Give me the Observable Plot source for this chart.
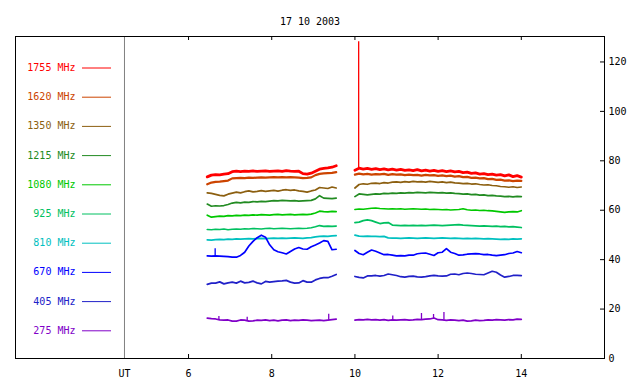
<!DOCTYPE html>
<html><head><meta charset="utf-8">
<script src="https://cdn.jsdelivr.net/npm/d3@7"></script>
<script src="https://cdn.jsdelivr.net/npm/@observablehq/plot@0.6"></script>
<style>body{margin:0;background:#fff}</style>
</head><body><div id="chart"></div>
<script>
const title = "17 10 2003";
const labels = ["1755 MHz","1620 MHz","1350 MHz","1215 MHz","1080 MHz","925 MHz","810 MHz","670 MHz","405 MHz","275 MHz"];
const colors = ["#ff0000","#cc4400","#8c5f10","#228b22","#00c800","#00c060","#00c0c0","#0000ff","#2020c8","#8000c8"];
const xTicks = [6,8,10,12,14];
const yTicks = [0,20,40,60,80,100,120];
const utLabel = "UT";
const utAt = 4.46;

// time grids (hours UT)
const t1 = [6.45,6.55,6.65,6.75,6.85,6.95,7.05,7.15,7.25,7.35,7.45,7.55,7.65,7.75,7.85,7.95,8.05,8.15,8.25,8.35,8.45,8.55,8.65,8.75,8.85,8.95,9.05,9.15,9.25,9.35,9.45,9.55];
const t2 = [10.0,10.1,10.2,10.3,10.4,10.5,10.6,10.7,10.8,10.9,11.0,11.1,11.2,11.3,11.4,11.5,11.6,11.7,11.8,11.9,12.0,12.1,12.2,12.3,12.4,12.5,12.6,12.7,12.8,12.9,13.0,13.1,13.2,13.3,13.4,13.5,13.6,13.7,13.8,13.9,14.0];

// first segment values
const a1755 = [73.5,74.2,74.4,74.3,74.6,74.8,75.6,75.8,75.6,75.8,75.7,75.9,75.7,75.8,75.9,75.7,75.8,75.9,75.7,76.0,75.8,75.7,75.8,74.8,74.6,75.0,75.8,76.6,76.9,77.1,77.4,78.0];
const a1620 = [70.5,71.2,71.5,71.6,71.8,72.0,72.9,73.0,73.1,73.0,73.2,73.1,73.2,73.3,73.2,73.3,73.4,73.3,73.4,73.3,73.4,73.3,73.2,73.0,73.1,73.3,74.2,74.7,74.9,75.0,75.1,75.4];
const a1350 = [67.0,66.8,66.4,66.0,65.8,66.5,66.9,67.3,67.0,67.5,67.8,67.4,67.6,67.9,67.6,67.8,68.0,67.7,68.1,68.3,68.0,68.2,67.8,67.6,67.3,67.8,68.2,69.2,69.0,68.8,69.4,69.0];
const a1215 = [62.5,61.6,61.8,61.7,61.9,62.3,62.9,63.2,63.0,63.3,63.2,63.5,63.4,63.6,63.5,63.7,63.9,63.8,64.0,63.9,63.8,63.9,63.7,63.8,63.9,64.0,64.6,65.9,64.9,64.8,64.7,64.9];
const a1080 = [58.0,57.2,57.4,57.6,57.5,57.8,57.7,57.9,57.8,58.0,57.9,58.1,58.0,58.2,58.1,58.0,58.2,58.3,58.1,58.2,58.3,58.1,58.2,58.3,58.2,58.4,58.9,59.6,59.4,59.3,59.5,59.4];
const a925 = [52.2,52.1,52.3,52.2,52.4,52.1,52.3,52.4,52.3,52.5,52.4,52.6,52.5,52.4,52.6,52.7,52.5,52.6,52.7,52.6,52.5,52.6,52.7,52.6,52.7,52.9,53.3,53.8,53.5,53.6,53.5,53.6];
const a810 = [48.0,47.9,48.1,48.2,48.1,48.3,48.2,48.4,48.3,48.4,48.5,48.4,48.5,48.6,48.5,48.6,48.7,48.6,48.7,48.6,48.7,48.8,48.7,48.6,48.8,48.9,49.2,49.4,49.5,49.4,49.6,49.7];
const a670 = [41.5,41.4,41.5,41.4,41.3,41.2,41.0,41.0,41.7,43.0,45.5,47.4,48.9,49.9,49.1,46.0,44.0,43.2,42.8,42.3,43.3,44.3,44.9,44.3,44.2,45.2,45.9,46.7,47.7,47.4,44.0,44.2];
const a405 = [30.0,30.5,30.5,31.0,30.2,30.6,30.9,30.5,31.3,30.6,30.8,31.3,30.6,30.2,31.2,30.9,31.1,31.3,31.4,31.6,30.9,30.5,30.6,31.5,30.9,30.9,31.8,32.4,32.7,32.7,33.3,34.0];
const a275 = [16.3,16.1,16.0,15.6,15.5,15.6,15.1,15.1,15.6,15.5,15.1,15.2,15.5,15.4,15.6,15.3,15.5,15.2,15.5,15.6,15.3,15.5,15.4,15.6,15.5,15.3,15.4,15.5,15.3,15.5,15.7,15.9];

// second segment values
const b1755 = [76.2,77.0,76.6,76.9,76.5,76.8,76.4,76.7,76.3,76.6,76.2,76.5,76.1,76.3,76.0,76.4,75.9,76.2,75.8,76.1,75.7,76.0,75.6,75.9,75.5,75.7,75.2,75.4,74.9,75.1,74.6,74.8,74.4,74.6,74.2,74.4,73.9,74.3,73.6,74.0,73.4];
const b1620 = [74.4,74.8,74.5,74.7,74.4,74.6,74.5,74.7,74.3,74.6,74.4,74.5,74.2,74.4,74.2,74.3,74.0,74.3,74.1,74.2,73.9,74.1,73.8,74.0,73.6,73.8,73.4,73.5,73.1,73.2,72.9,73.0,72.6,72.7,72.3,72.4,72.0,72.1,71.8,72.0,71.9];
const b1350 = [69.0,70.4,70.7,70.5,70.9,71.0,70.8,71.2,71.0,71.4,71.5,71.3,71.6,71.4,71.7,71.5,71.6,71.4,71.7,71.5,71.3,71.5,71.2,71.4,71.1,71.0,70.8,70.9,70.6,70.7,70.4,70.2,70.3,70.0,69.9,69.6,69.5,69.3,69.5,69.2,69.4];
const b1215 = [65.5,66.6,66.4,66.2,66.4,66.6,66.5,66.8,66.7,66.9,66.8,67.0,66.9,67.1,67.0,67.2,67.1,67.0,67.2,67.1,67.0,67.1,66.9,67.0,66.8,66.7,66.5,66.6,66.3,66.4,66.1,66.2,65.9,66.0,65.8,65.7,65.5,65.6,65.4,65.6,65.5];
const b1080 = [60.3,60.5,60.4,60.6,60.8,60.9,60.7,60.6,60.5,60.6,60.5,60.6,60.4,60.5,60.6,60.5,60.4,60.5,60.3,60.4,60.3,60.2,60.3,60.1,60.2,60.3,60.6,60.2,60.0,60.1,59.9,60.0,59.8,59.7,59.5,59.3,59.1,59.3,59.4,59.3,59.8];
const b925 = [55.0,55.2,55.8,56.1,55.8,55.2,54.6,54.9,55.0,54.0,53.9,53.8,53.9,53.8,53.9,53.8,53.9,53.8,53.9,54.0,53.9,53.8,53.9,54.0,54.1,54.2,54.0,53.9,53.8,53.7,53.6,53.7,53.6,53.5,53.6,53.4,53.5,53.3,53.4,53.2,53.0];
const b810 = [49.9,49.5,49.4,49.5,49.4,49.4,49.3,49.4,48.8,48.7,48.7,48.6,48.7,48.8,48.7,48.6,48.7,48.8,48.7,48.6,48.7,48.8,48.7,48.6,48.7,48.6,48.5,48.6,48.5,48.6,48.5,48.4,48.5,48.4,48.3,48.2,48.3,48.2,48.4,48.3,48.4];
const b670 = [43.7,42.5,42.0,43.0,43.9,43.4,42.7,42.0,42.1,41.8,41.5,41.6,41.5,41.8,41.8,42.4,42.6,42.7,42.2,41.7,42.8,43.0,44.5,43.0,42.5,41.8,41.9,42.2,42.3,42.4,42.3,42.0,42.1,41.8,41.6,41.8,42.0,42.5,42.7,43.3,42.8];
const b405 = [33.2,32.8,32.6,33.4,33.4,33.6,33.3,33.6,34.2,33.9,33.6,33.1,32.9,33.2,33.3,33.0,32.9,33.1,33.4,33.6,33.4,33.3,33.4,34.1,34.2,33.9,34.4,34.6,34.4,34.1,34.0,33.9,34.6,35.3,34.9,33.8,32.9,33.2,33.6,33.6,33.5];
const b275 = [15.5,15.7,15.6,15.8,15.6,15.7,15.5,15.7,15.4,15.6,15.5,15.6,15.7,15.5,15.6,15.8,15.7,15.9,16.0,16.4,15.7,15.6,15.4,15.6,15.5,15.3,15.5,15.1,15.2,15.5,15.3,15.4,15.6,15.5,15.7,15.6,15.5,15.7,15.6,15.9,15.8];

// isolated short bursts (spikes)
const spikeFreq = ["1755 MHz","670 MHz","275 MHz","275 MHz","275 MHz","275 MHz","275 MHz","275 MHz","275 MHz"];
const spikeTime = [10.09,6.64,6.73,7.41,9.37,10.91,11.60,11.89,12.14];
const spikeLow  = [76.5,41.4,15.6,15.2,15.5,15.6,15.7,15.8,15.5];
const spikeHigh = [128.2,44.4,17.0,16.7,17.9,17.2,18.2,17.8,18.6];

const segA = [a1755,a1620,a1350,a1215,a1080,a925,a810,a670,a405,a275];
const segB = [b1755,b1620,b1350,b1215,b1080,b925,b810,b670,b405,b275];

const rows = [];
labels.forEach((f, i) => {
  t1.forEach((t, j) => rows.push({t, v: segA[i][j], f, k: f + "|a"}));
  t2.forEach((t, j) => rows.push({t, v: segB[i][j], f, k: f + "|b"}));
});
const spikes = spikeTime.map((t, i) => ({t, lo: spikeLow[i], hi: spikeHigh[i], f: spikeFreq[i]}));

const widthFor = f => f === "1755 MHz" ? 2.8 : f === "1620 MHz" ? 2.2 : 1.7;

const W = 640, H = 384, ML = 15, MR = 36, MT = 36, MB = 26;
const plot = Plot.plot({
  width: W, height: H,
  marginLeft: ML, marginRight: MR, marginTop: MT, marginBottom: MB,
  style: {fontFamily: "'DejaVu Sans Mono', monospace", fontSize: "10px", background: "#fff", color: "#000"},
  x: {domain: [1.84, 16], axis: null, label: null},
  y: {domain: [0, 130.3], axis: null, label: null},
  color: {domain: labels, range: colors},
  marks: [
    Plot.ruleX([utAt], {stroke: "#808080"}),
    ...labels.map(f => Plot.line(rows.filter(d => d.f === f), {x: "t", y: "v", z: "k", stroke: "f", strokeWidth: widthFor(f)})),
    Plot.ruleX(spikes, {x: "t", y1: "lo", y2: "hi", stroke: "f", strokeWidth: 1.3}),
    Plot.ruleX(xTicks, {stroke: "#000", insetTop: H - MT - MB - 4}),
    Plot.ruleX([...xTicks, 16], {stroke: "#000", insetBottom: H - MT - MB - 4}),
    Plot.ruleY(yTicks, {stroke: "#000", insetLeft: W - ML - MR - 4}),
    Plot.frame({stroke: "#000"}),
    Plot.axisX([utAt, ...xTicks], {anchor: "bottom", label: null, tickSize: 0, tickPadding: 11, tickFormat: d => d === utAt ? utLabel : String(d), fill: "#000"}),
    Plot.axisY(yTicks, {anchor: "right", label: null, tickSize: 0, tickPadding: 4, fill: "#000"}),
    Plot.text([title], {text: d => d, frameAnchor: "top", dy: -19, fill: "#000"})
  ]
});
document.getElementById("chart").appendChild(plot);

// legend (inside frame, left side)
const svg = d3.select(plot);
const lg = svg.append("g").attr("font-family", "'DejaVu Sans Mono', monospace").attr("font-size", 10);
labels.forEach((lab, i) => {
  const y = 67.5 + i * 29.2;
  lg.append("text").attr("x", 75.5).attr("y", y).attr("dy", "0.35em").attr("text-anchor", "end").attr("fill", colors[i]).text(lab);
  lg.append("line").attr("x1", 82).attr("x2", 111).attr("y1", y + 0.5).attr("y2", y + 0.5).attr("stroke", colors[i]).attr("stroke-width", 1);
});
</script>
</body></html>
